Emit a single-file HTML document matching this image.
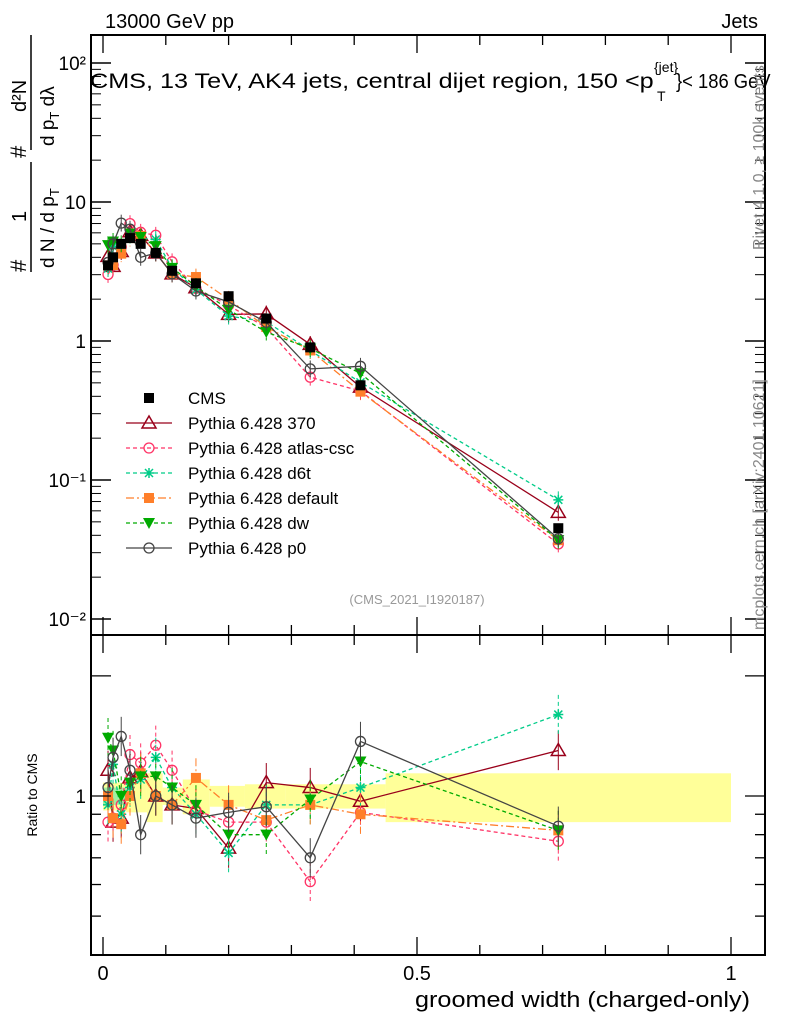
<!DOCTYPE html>
<html><head><meta charset="utf-8"><style>
body{margin:0;background:#fff;}
svg{display:block;font-family:"Liberation Sans",sans-serif;}
</style></head><body>
<svg id="c" width="786" height="1024" viewBox="0 0 786 1024">
<g id="bands"></g>
<g id="marks"></g>
<rect x="91" y="35" width="674" height="600" fill="none" stroke="#000" stroke-width="2"/>
<rect x="91" y="635" width="674" height="320" fill="none" stroke="#000" stroke-width="2"/>
<g id="axes"></g>
<text x="105" y="28" font-size="20">13000 GeV pp</text>
<text x="758" y="28" font-size="20" text-anchor="end">Jets</text>
<g>
<text transform="translate(90,88) scale(1.2,1)" font-size="21">CMS, 13 TeV, AK4 jets, central dijet region, 150 &lt;p</text>
<text x="654" y="72" font-size="14">{jet}</text>
<text x="657" y="101" font-size="14">T</text>
<text transform="translate(676,88) scale(0.92,1)" font-size="20">}&lt; 186 GeV</text>
</g>
<text x="417" y="604" font-size="13" fill="#999" text-anchor="middle">(CMS_2021_I1920187)</text>
<text x="415" y="1007" font-size="22" textLength="335" lengthAdjust="spacingAndGlyphs">groomed width (charged-only)</text>
<text transform="translate(37,795) rotate(-90)" font-size="14" text-anchor="middle">Ratio to CMS</text>
<g transform="rotate(-90)">
<text x="-272" y="26" font-size="22">#</text>
<text x="-222" y="26" font-size="20">1</text>
<line x1="-272" y1="31" x2="-162" y2="31" stroke="#000" stroke-width="1.5"/>
<text x="-268" y="54" font-size="19">d N / d p<tspan font-size="13" dy="5">T</tspan></text>
<text x="-158" y="26" font-size="22">#</text>
<text x="-112" y="26" font-size="20">d²N</text>
<line x1="-150" y1="31" x2="-35" y2="31" stroke="#000" stroke-width="1.5"/>
<text x="-146" y="54" font-size="19">d p<tspan font-size="13" dy="5">T</tspan><tspan dy="-5"> dλ</tspan></text>
</g>
<text transform="translate(764,250) rotate(-90)" font-size="16" fill="#888">Rivet 4.1.0, ≥ 100k events</text>
<text transform="translate(764,630) rotate(-90)" font-size="16" fill="#888">mcplots.cern.ch [arXiv:2401.10621]</text>
<g id="legend"></g>
</svg>
<script>
const xs=[0.008,0.016,0.029,0.043,0.06,0.084,0.11,0.148,0.2,0.26,0.33,0.41,0.725];
const cmsVals=[3.5,4.0,5.0,5.5,5.0,4.3,3.2,2.6,2.1,1.45,0.9,0.48,0.045];
const binEdges=[0,0.012,0.025,0.037,0.07,0.095,0.127,0.17,0.226,0.29,0.365,0.45,1.0];
const bandErr=[0.08,0.08,0.08,0.09,0.14,0.05,0.10,0.06,0.07,0.07,0.07,0.14];
const statErr=[0.05,0.05,0.05];
const r370=[1.16,0.86,0.88,1.11,1.15,1.0,0.95,0.93,0.74,1.08,1.05,0.97,1.30];
const rAtlas=[0.86,0.88,0.95,1.27,1.21,1.34,1.16,0.92,0.86,0.86,0.61,0.91,0.77];
const rD6t=[0.95,1.2,0.9,1.05,1.1,1.25,1.05,0.9,0.72,0.95,0.95,1.05,1.6];
const rDefault=[1.0,0.88,0.85,1.0,1.14,1.0,0.95,1.11,0.95,0.87,0.95,0.9,0.82];
const rDw=[1.4,1.3,1.0,1.08,1.12,1.12,1.05,0.95,0.8,0.8,0.98,1.22,0.82];
const rP0=[1.05,1.25,1.41,1.16,0.80,1.0,0.95,0.88,0.91,0.94,0.70,1.37,0.84];
const NS='http://www.w3.org/2000/svg';
const X=v=>103+628*v, Y=v=>341-139*Math.log10(v), R=r=>796-399*Math.log10(r);
function mk(tag,at,par){const e=document.createElementNS(NS,tag);for(const k in at)e.setAttribute(k,at[k]);par.appendChild(e);return e;}
const bands=document.getElementById('bands'),marks=document.getElementById('marks'),axes=document.getElementById('axes'),leg=document.getElementById('legend');
for(let i=0;i<bandErr.length;i++){
 const x0=X(binEdges[i]),x1=X(binEdges[i+1]);
 const b=mk('rect',{x:x0,y:R(1+bandErr[i]),width:x1-x0,height:R(1-bandErr[i])-R(1+bandErr[i]),fill:'#ffff99'},bands);
 
 
}
for(let i=0;i<statErr.length;i++){
 const x0=X(binEdges[i]),x1=X(binEdges[i+1]);
 const b=mk('rect',{x:x0,y:R(1+statErr[i]),width:x1-x0,height:R(1-statErr[i])-R(1+statErr[i]),fill:'#a0f0a0'},bands);
 
 
}
function marker(type,x,y,col,g){
 let e;
 if(type=='sq')e=mk('rect',{x:x-5,y:y-5,width:10,height:10,fill:col},g);
 else if(type=='tri')e=mk('polygon',{points:`${x},${y-7} ${x-7},${y+5} ${x+7},${y+5}`,fill:'none',stroke:col,'stroke-width':1.5},g);
 else if(type=='circ')e=mk('circle',{cx:x,cy:y,r:5,fill:'none',stroke:col,'stroke-width':1.3},g);
 else if(type=='star'){e=mk('path',{d:`M${x-5},${y}h10M${x},${y-5}v10M${x-4},${y-4}l8,8M${x-4},${y+4}l8,-8`,stroke:col,'stroke-width':1.5},g);}
 else if(type=='dtri')e=mk('polygon',{points:`${x},${y+6} ${x-6},${y-5} ${x+6},${y-5}`,fill:col},g);
 return e;
}
const series=[
 ['Pythia 6.428 370',r370,'#99001a','tri',''],
 ['Pythia 6.428 atlas-csc',rAtlas,'#ff3366','circ','4,3'],
 ['Pythia 6.428 d6t',rD6t,'#00cc88','star','4,3'],
 ['Pythia 6.428 default',rDefault,'#ff7f2a','sq','8,3,2,3'],
 ['Pythia 6.428 dw',rDw,'#00aa00','dtri','4,3'],
 ['Pythia 6.428 p0',rP0,'#444444','circ','']
];
series.forEach((s,si)=>{
 const g=mk('g',{},marks);
 
 
 const pm=xs.map((x,i)=>X(x)+','+Y(cmsVals[i]*s[1][i])).join(' ');
 const pr=xs.map((x,i)=>X(x)+','+R(s[1][i])).join(' ');
 mk('polyline',{points:pm,fill:'none',stroke:s[2],'stroke-width':1.3,'stroke-dasharray':s[4]},g);
 mk('polyline',{points:pr,fill:'none',stroke:s[2],'stroke-width':1.3,'stroke-dasharray':s[4]},g);
 xs.forEach((x,i)=>{
  const v=cmsVals[i]*s[1][i];
  mk('line',{x1:X(x),x2:X(x),y1:Y(v*1.15),y2:Y(v/1.15),stroke:s[2],'stroke-dasharray':s[4]},g);
  mk('line',{x1:X(x),x2:X(x),y1:R(s[1][i]*1.12),y2:R(s[1][i]/1.12),stroke:s[2],'stroke-dasharray':s[4]},g);
  const m1=marker(s[3],X(x),Y(v),s[2],g);
  
  
  const m2=marker(s[3],X(x),R(s[1][i]),s[2],g);
  
  
 });
 const ly=423+25*si;
 mk('line',{x1:126,x2:172,y1:ly,y2:ly,stroke:s[2],'stroke-width':1.3,'stroke-dasharray':s[4]},leg);
 const lm=marker(s[3],149,ly,s[2],leg);
 
 
 const t=mk('text',{x:188,y:ly+6,'font-size':17},leg);t.textContent=s[0];
 
 
});
const cg=mk('g',{},marks);


xs.forEach((x,i)=>{const m=marker('sq',X(x),Y(cmsVals[i]),'#000',cg);
 
 });
mk('rect',{x:144,y:393,width:10,height:10,fill:'#000'},leg);
const ct=mk('text',{x:188,y:404,'font-size':17},leg);ct.textContent='CMS';


const yTicks=[0.01,0.1,1,10,100];
const yTickLabels=['10⁻²','10⁻¹','1','10','10²'];
yTicks.forEach((v,i)=>{
 mk('line',{x1:91,x2:111,y1:Y(v),y2:Y(v),stroke:'#000','stroke-width':1.5},axes);
 mk('line',{x1:745,x2:765,y1:Y(v),y2:Y(v),stroke:'#000','stroke-width':1.5},axes);
 const t=mk('text',{x:86,y:Y(v)+7,'font-size':19,'text-anchor':'end'},axes);t.textContent=yTickLabels[i];
 
 
 if(i<4)for(let k=2;k<10;k++){const yy=Y(v*k);mk('line',{x1:91,x2:101,y1:yy,y2:yy,stroke:'#000'},axes);mk('line',{x1:755,x2:765,y1:yy,y2:yy,stroke:'#000'},axes);}
});
[0.5,0.6,0.7,0.8,0.9,1,2].forEach(r=>{const w=(r==1||r==2)?20:10;mk('line',{x1:91,x2:91+w,y1:R(r),y2:R(r),stroke:'#000','stroke-width':1.3},axes);mk('line',{x1:765-w,x2:765,y1:R(r),y2:R(r),stroke:'#000','stroke-width':1.3},axes);});
const rl=mk('text',{x:86,y:R(1)+7,'font-size':19,'text-anchor':'end'},axes);rl.textContent='1';
const xTicks=[0,0.5,1];
xTicks.forEach(v=>{
 const t=mk('text',{x:X(v),y:980,'font-size':20,'text-anchor':'middle'},axes);t.textContent=v==0?'0':(v==1?'1':'0.5');
 
 
});
for(let k=0;k<=10;k++){const v=k/10,L=(k%5==0)?18:10;
 [[35,1],[635,1],[955,-1],[635,-1]].forEach(([y0,d])=>mk('line',{x1:X(v),x2:X(v),y1:y0,y2:y0+d*L,stroke:'#000','stroke-width':1.3},axes));}
</script>
</body></html>
